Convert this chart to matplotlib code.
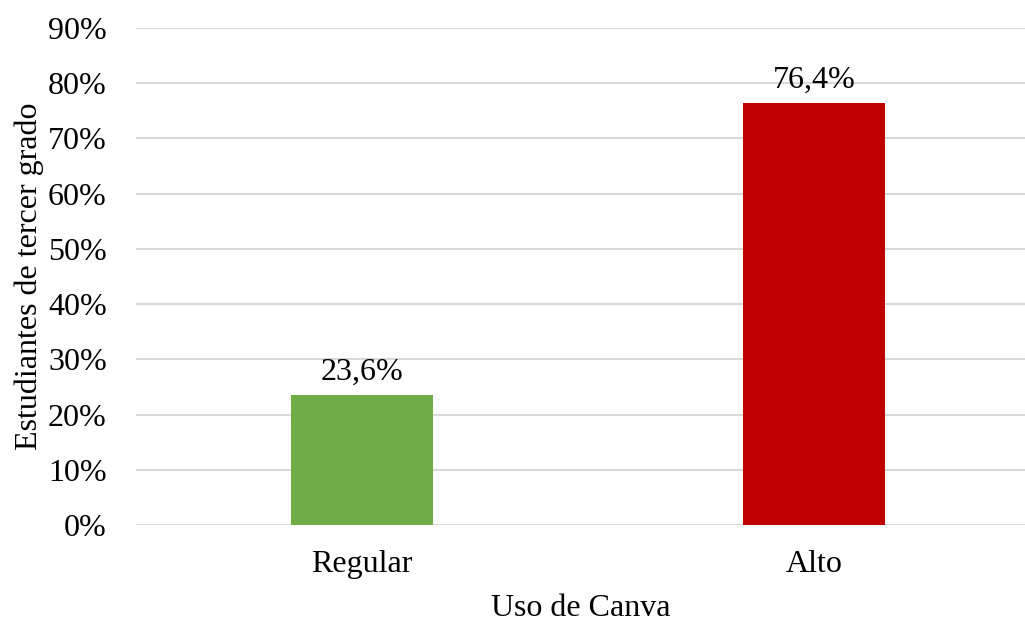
import matplotlib
matplotlib.use('Agg')
import matplotlib.pyplot as plt
from matplotlib.ticker import PercentFormatter

categories = ['Regular', 'Alto']
values = [23.6, 76.4]
labels = ['23,6%', '76,4%']
colors = ['#70AD47', '#C00000']

plt.rcParams['font.family'] = ['Liberation Serif', 'DejaVu Serif']
plt.rcParams['font.size'] = 23

fig = plt.figure(figsize=(10.25, 6.23), dpi=100)
ax = fig.add_axes([136 / 1025, 98 / 623, 889 / 1025, 497 / 623])

x = range(len(categories))
bars = ax.bar(x, values, width=0.314, color=colors, zorder=3)
for b, lab in zip(bars, labels):
    ax.annotate(lab, (b.get_x() + b.get_width() / 2, b.get_height()),
                xytext=(0, 6), textcoords='offset points',
                ha='center', va='bottom')

ax.set_xlim(-0.5, 1.467)
ax.set_ylim(0, 90)
ax.set_yticks(range(0, 91, 10))
ax.yaxis.set_major_formatter(PercentFormatter(decimals=0))
ax.set_xticks(list(x))
ax.set_xticklabels(categories)
ax.grid(axis='y', color='#D9D9D9', linewidth=1.5, zorder=0)
for s in ax.spines.values():
    s.set_visible(False)
ax.tick_params(length=0)
ax.tick_params(axis='x', pad=18)
ax.tick_params(axis='y', pad=21)
ax.set_xlabel('Uso de Canva', labelpad=11)
ax.set_ylabel('Estudiantes de tercer grado')
ax.yaxis.set_label_coords(-0.104, 0.5)

plt.savefig('out.png', dpi=100)
